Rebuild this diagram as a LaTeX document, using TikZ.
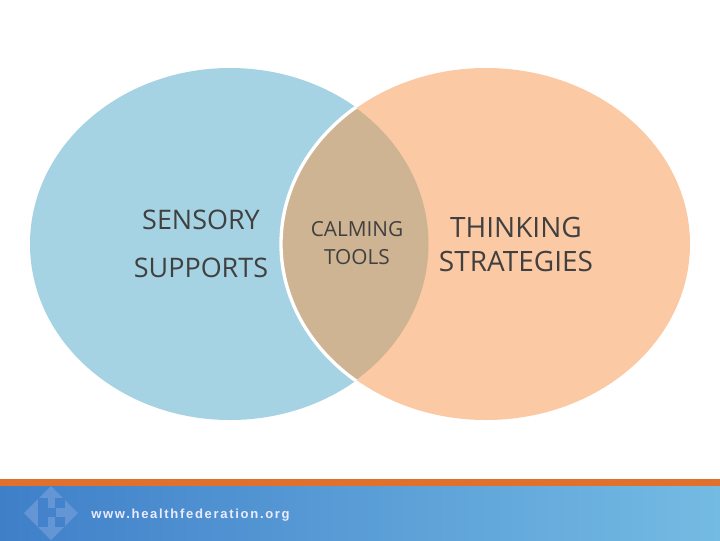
\documentclass[tikz,border=0pt]{standalone}
\usepackage{fontspec}
\setmainfont{Open Sans}
\newfontfamily\webfont{Liberation Sans}
\definecolor{blueset}{HTML}{A5D3E3}
\definecolor{peachset}{HTML}{FBC9A3}
\definecolor{lensset}{HTML}{CEB492}
\definecolor{barorange}{HTML}{E0702C}
\definecolor{bandleft}{HTML}{3F7FC9}
\definecolor{bandright}{HTML}{74BBE3}
\definecolor{logolight}{HTML}{6496D5}
\definecolor{logodark}{HTML}{4482CB}
\definecolor{labeltext}{HTML}{404040}
\tikzset{
  setlabel/.style={text=labeltext, align=center, inner sep=0pt, anchor=center},
  bigset/.style={font=\fontsize{20.2pt}{20.2pt}\selectfont},
  midset/.style={font=\fontsize{15.6pt}{16pt}\selectfont},
  wideset/.style={font=\fontsize{21pt}{21pt}\selectfont},
}
\begin{document}
\begin{tikzpicture}[x=0.75pt,y=-0.75pt]
\useasboundingbox (0,0) rectangle (720,540);
\fill[white] (0,0) rectangle (720,540);
% band
\shade[left color=bandleft,right color=bandright] (0,486) rectangle (720,540);
\fill[barorange] (0,479) rectangle (720,486);
% logo
\fill[logolight] (51,486) -- (78,513) -- (51,540) -- (24,513) -- cycle;
\fill[logodark] (38,498) rectangle (48,527);
\fill[logodark] (55,498) rectangle (65,508);
\fill[logodark] (55,517) rectangle (65,527);
\fill[logodark] (47,508) rectangle (56,517);
% sets
\fill[blueset] (230,244) ellipse [x radius=200, y radius=176];
\fill[peachset] (486,244) ellipse [x radius=204, y radius=176];
\begin{scope}
\clip (230,244) ellipse [x radius=198.5, y radius=176];
\fill[lensset] (486,244) ellipse [x radius=204, y radius=176];
\end{scope}
\begin{scope}
\clip (230,244) ellipse [x radius=200, y radius=176];
\draw[white,line width=2.5pt] (486,244) ellipse [x radius=205, y radius=177];
\end{scope}
% labels
\node[setlabel,bigset] (sensory) at (201,220) {SENSORY};
\node[setlabel,bigset] (supports) at (201,268) {SUPPORTS};
\node[setlabel,midset] (calming) at (357,229) {CALMING};
\node[setlabel,midset] (tools) at (357,257) {TOOLS};
\node[setlabel,wideset] (thinking) at (516,227) {THINKING};
\node[setlabel,wideset] (strategies) at (516,261) {STRATEGIES};
\node[inner sep=0pt,text=white!92!blue,font=\webfont\bfseries\fontsize{9.8pt}{10pt}\selectfont,anchor=center] (url) at (190.5,515) {\addfontfeatures{LetterSpace=12.8}www.healthfederation.org};
\end{tikzpicture}
\end{document}
